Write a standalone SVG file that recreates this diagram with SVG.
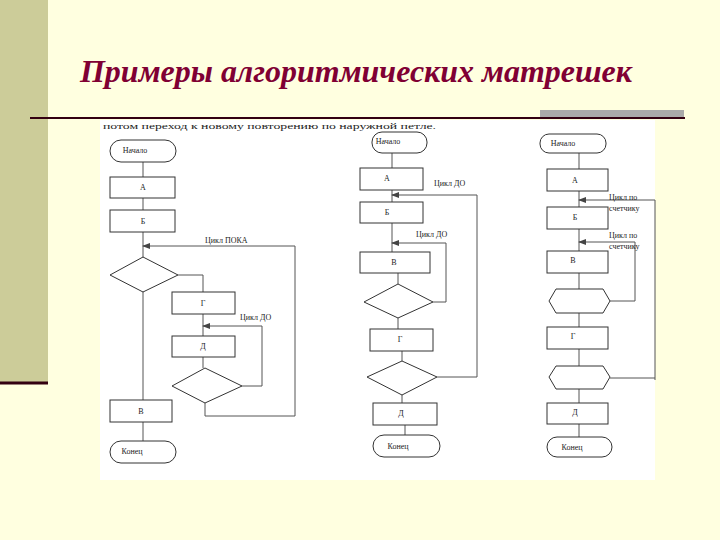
<svg xmlns="http://www.w3.org/2000/svg" width="720" height="540" viewBox="0 0 720 540">
<defs>
<style>
.b{fill:#fff;stroke:#333;stroke-width:1}
.l{fill:none;stroke:#555;stroke-width:1}
.t{font-family:"Liberation Serif",serif;font-size:8px;fill:#222;text-anchor:middle}
.s{font-family:"Liberation Serif",serif;font-size:8px;fill:#222}
.h{font-family:"Liberation Serif","DejaVu Serif",serif;font-size:32px;font-weight:bold;font-style:italic;fill:#800033}
</style>
<marker id="a" markerWidth="8" markerHeight="6" refX="7" refY="3" orient="auto"><path d="M0,0L8,3L0,6z" fill="#444"/></marker>
</defs>
<rect width="720" height="540" fill="#ffffe0"/>
<rect x="0" y="0" width="48" height="383" fill="#cccc99"/>
<line x1="0" y1="383" x2="48" y2="383" stroke="#330011" stroke-width="3"/>
<rect x="540" y="110" width="144" height="8" fill="#aaaaaa"/>
<text x="80" y="82" class="h" textLength="552" lengthAdjust="spacingAndGlyphs">Примеры алгоритмических матрешек</text>
<rect x="100" y="120" width="555" height="360" fill="#fff"/>
<text x="103" y="129" class="s" font-size="14" textLength="333" lengthAdjust="spacingAndGlyphs">потом переход к новому повторению по наружной петле.</text>
<rect x="100" y="118" width="555" height="2" fill="#ffffe0"/>
<line x1="30" y1="118" x2="685" y2="118" stroke="#330011" stroke-width="2"/>
<g id="connectors">
<path class="l" d="M143,162V400M143,422V441"/>
<path class="l" d="M295,246H143" marker-end="url(#a)"/>
<path class="l" d="M178,275H203V292M203,314V336M205,403V416H295V246"/>
<path class="l" d="M242,386H262V326H203" marker-end="url(#a)"/>
<path class="l" d="M203,357V368"/>
<path class="l" d="M392,153V202M392,223V252M398,273V284M398,318V329M402,351V361M402,395V403M405,425V435"/>
<path class="l" d="M477,377H437M477,377V195H392" marker-end="url(#a)"/>
<path class="l" d="M433,302H446V243H392" marker-end="url(#a)"/>
<path class="l" d="M579,153V169M579,191V207M579,229V251M579,273V289M579,313V327M579,349V366M579,389V403M579,424V437"/>
<path class="l" d="M655,378H610M655,380V200H579" marker-end="url(#a)"/>
<path class="l" d="M610,301H635V242H579" marker-end="url(#a)"/>
</g>
<g id="d1">
<rect class="b" x="110" y="140" width="66" height="22" rx="11"/><text class="t" x="135" y="153">Начало</text>
<rect class="b" x="110" y="177" width="65" height="21"/><text class="t" x="143" y="190">А</text>
<rect class="b" x="110" y="210" width="65" height="22"/><text class="t" x="143" y="224">Б</text>
<text class="s" x="205" y="243">Цикл ПОКА</text>
<path class="b" d="M143,257L178,275L143,292L110,275z"/>
<rect class="b" x="172" y="292" width="63" height="22"/><text class="t" x="203" y="306">Г</text>
<text class="s" x="240" y="320">Цикл ДО</text>
<rect class="b" x="172" y="336" width="63" height="21"/><text class="t" x="203" y="349">Д</text>
<path class="b" d="M205,368L242,386L205,403L172,386z"/>
<rect class="b" x="110" y="400" width="62" height="22"/><text class="t" x="141" y="414">В</text>
<rect class="b" x="110" y="441" width="66" height="22" rx="11"/><text class="t" x="132" y="454">Конец</text>
</g>
<g id="d2">
<rect class="b" x="372" y="132" width="55" height="21" rx="10"/><text class="t" x="388" y="144">Начало</text>
<rect class="b" x="360" y="168" width="63" height="22"/><text class="t" x="387" y="181">А</text>
<text class="s" x="434" y="186">Цикл ДО</text>
<rect class="b" x="360" y="202" width="63" height="21"/><text class="t" x="387" y="215">Б</text>
<text class="s" x="416" y="237">Цикл ДО</text>
<rect class="b" x="360" y="252" width="70" height="21"/><text class="t" x="394" y="265">В</text>
<path class="b" d="M398,284L433,302L398,318L364,302z"/>
<rect class="b" x="370" y="329" width="63" height="22"/><text class="t" x="400" y="342">Г</text>
<path class="b" d="M402,361L437,377L402,395L367,377z"/>
<rect class="b" x="373" y="403" width="64" height="22"/><text class="t" x="401" y="416">Д</text>
<rect class="b" x="373" y="435" width="67" height="22" rx="11"/><text class="t" x="398" y="449">Конец</text>
</g>
<g id="d3">
<rect class="b" x="540" y="134" width="66" height="19" rx="9"/><text class="t" x="563" y="146">Начало</text>
<rect class="b" x="547" y="169" width="61" height="22"/><text class="t" x="575" y="183">А</text>
<text class="s" x="609" y="200">Цикл по</text><text class="s" x="609" y="211">счетчику</text>
<rect class="b" x="547" y="207" width="61" height="22"/><text class="t" x="575" y="220">Б</text>
<text class="s" x="609" y="238">Цикл по</text><text class="s" x="609" y="249">счетчику</text>
<rect class="b" x="547" y="251" width="61" height="22"/><text class="t" x="573" y="263">В</text>
<path class="b" d="M556,289H603L610,301L603,313H556L549,301z"/>
<rect class="b" x="547" y="327" width="61" height="22"/><text class="t" x="573" y="339">Г</text>
<path class="b" d="M556,366H603L610,377L603,389H556L549,377z"/>
<rect class="b" x="547" y="403" width="61" height="21"/><text class="t" x="575" y="415">Д</text>
<rect class="b" x="547" y="437" width="65" height="20" rx="10"/><text class="t" x="572" y="450">Конец</text>
</g>
</svg>
